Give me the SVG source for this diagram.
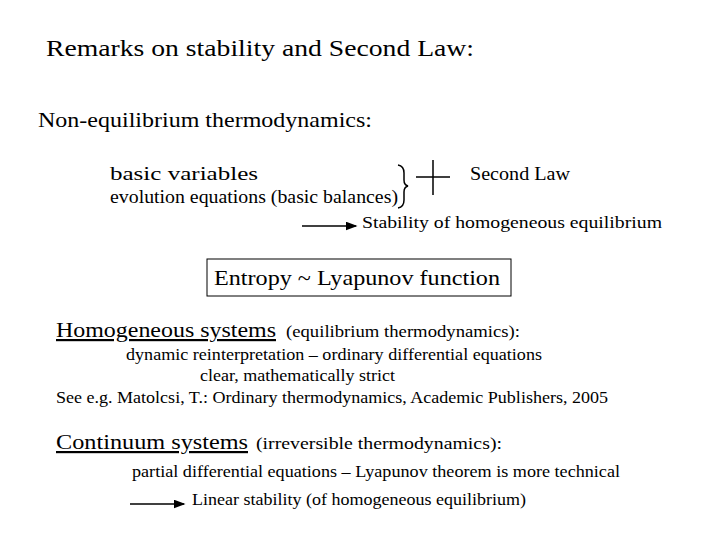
<svg xmlns="http://www.w3.org/2000/svg" width="720" height="540" viewBox="0 0 720 540">
<style>
text{font-family:"Liberation Serif","Times New Roman",serif;fill:#000}
.l{stroke:#000;stroke-width:1.5;fill:none}
</style>
<defs><marker id="a" markerWidth="8" markerHeight="6" refX="7" refY="3" orient="auto"><path d="M0,0 L8,3 L0,6 Z"/></marker></defs>
<rect width="720" height="540" fill="#fff"/>
<g font-family="Liberation Serif, serif" lengthAdjust="spacingAndGlyphs">
<text x="46" y="56" font-size="24" textLength="428" lengthAdjust="spacingAndGlyphs">Remarks on stability and Second Law:</text>
<text x="38" y="127" font-size="21" textLength="334" lengthAdjust="spacingAndGlyphs">Non-equilibrium thermodynamics:</text>
<g id="vars"><text x="110" y="180" font-size="18" textLength="148" lengthAdjust="spacingAndGlyphs">basic variables</text>
<text x="110" y="203" font-size="18" textLength="288" lengthAdjust="spacingAndGlyphs">evolution equations (basic balances)</text></g>
<g id="brace"><path class="l" d="M398,165 Q404,166 404,173 L404,180 Q404,185 408,186 Q404,187 404,192 L404,200 Q404,207 398,208" stroke-width="1"/></g>
<g id="plus"><path class="l" d="M416,177 H450 M433,160 V195"/></g>
<g id="sl"><text x="470" y="180" font-size="18" textLength="100" lengthAdjust="spacingAndGlyphs">Second Law</text></g>
<g id="conn"><line class="l" x1="302" y1="226" x2="356" y2="226" stroke-width="1.2" marker-end="url(#a)"/>
<line class="l" x1="130" y1="504" x2="184" y2="504" stroke-width="1.2" marker-end="url(#a)"/></g>
<g id="stab"><text x="362" y="228" font-size="16" textLength="300" lengthAdjust="spacingAndGlyphs">Stability of homogeneous equilibrium</text></g>
<g id="entropy"><rect x="207" y="259" width="304" height="37" fill="none" stroke="#000" stroke-width="1"/>
<text x="214" y="285" font-size="22" textLength="286" lengthAdjust="spacingAndGlyphs">Entropy ~ Lyapunov function</text></g>
<text x="56" y="337" font-size="22" text-decoration="underline" textLength="220" lengthAdjust="spacingAndGlyphs">Homogeneous systems</text>
<text x="286" y="337" font-size="17" textLength="234" lengthAdjust="spacingAndGlyphs">(equilibrium thermodynamics):</text>
<text x="126" y="360" font-size="17" textLength="416" lengthAdjust="spacingAndGlyphs">dynamic reinterpretation – ordinary differential equations</text>
<text x="200" y="381" font-size="17" textLength="195" lengthAdjust="spacingAndGlyphs">clear, mathematically strict</text>
<text x="56" y="403" font-size="17" textLength="552" lengthAdjust="spacingAndGlyphs">See e.g. Matolcsi, T.: Ordinary thermodynamics, Academic Publishers, 2005</text>
<text x="56" y="449" font-size="22" text-decoration="underline" textLength="192" lengthAdjust="spacingAndGlyphs">Continuum systems</text>
<text x="256" y="449" font-size="17" textLength="246" lengthAdjust="spacingAndGlyphs">(irreversible thermodynamics):</text>
<text x="132" y="477" font-size="17" textLength="488" lengthAdjust="spacingAndGlyphs">partial differential equations – Lyapunov theorem is more technical</text>
<text x="192" y="505" font-size="17" textLength="334" lengthAdjust="spacingAndGlyphs">Linear stability (of homogeneous equilibrium)</text>
</g>
</svg>
